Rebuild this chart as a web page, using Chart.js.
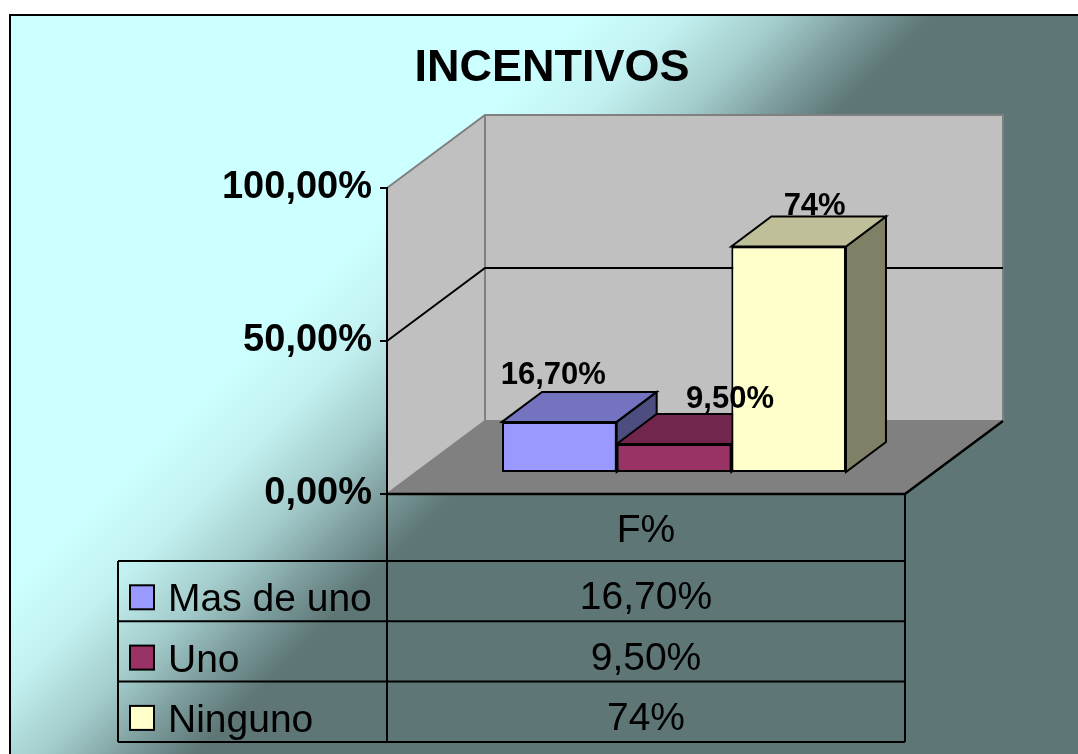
<!DOCTYPE html>
<html><head><meta charset="utf-8">
<script src="https://cdn.jsdelivr.net/npm/chart.js@4.4.1/dist/chart.umd.min.js"></script>
<style>html,body{margin:0;padding:0;background:#fff;overflow:hidden}
#wrap{position:absolute;left:0;top:0;width:1078px;height:754px}</style>
</head><body><div id="wrap"><canvas id="c" width="1078" height="754"></canvas></div>
<script>
// ---- data ----
const categories = ['F%'];
const seriesNames = ['Mas de uno', 'Uno', 'Ninguno'];
const masDeUno = [0.167];
const uno = [0.095];
const ninguno = [0.74];
const valueLabels = ['16,70%', '9,50%', '74%'];
const tickValues = [0, 0.5, 1];
const tickLabels = ['0,00%', '50,00%', '100,00%'];

// ---- styles ----
const FONT = '"Liberation Sans", Arial, Helvetica, sans-serif';
const frontColors = ['#9999FF', '#993366', '#FFFFCC'];
const topColors = ['#7373BF', '#73264D', '#BFBF99'];
const sideColors = ['#4D4D80', '#4D1A33', '#808066'];
const labelNudge = [-6, 56, 26];
const labelLift = [8, 6, 2];
const DEPTH = {dx: 98, dy: -73};
const BAR_SHIFT = {dx: 28, dy: -21};
const BAR_DEPTH = {dx: 40, dy: -30};

function poly(ctx, pts, fill, stroke, lw) {
  ctx.beginPath();
  ctx.moveTo(pts[0][0], pts[0][1]);
  for (let i = 1; i < pts.length; i++) ctx.lineTo(pts[i][0], pts[i][1]);
  ctx.closePath();
  if (fill) { ctx.fillStyle = fill; ctx.fill(); }
  if (stroke) { ctx.strokeStyle = stroke; ctx.lineWidth = lw || 2; ctx.lineJoin = 'miter'; ctx.stroke(); }
}
function line(ctx, pts, color, lw) {
  ctx.beginPath();
  ctx.moveTo(pts[0][0], pts[0][1]);
  for (let i = 1; i < pts.length; i++) ctx.lineTo(pts[i][0], pts[i][1]);
  ctx.strokeStyle = color; ctx.lineWidth = lw || 2; ctx.stroke();
}

const scenePlugin = {
  id: 'scene',
  beforeDraw(chart) {
    const ctx = chart.ctx, a = chart.chartArea, W = chart.width, H = chart.height;
    const ys = chart.scales.y;
    ctx.save();
    ctx.fillStyle = '#fff'; ctx.fillRect(0, 0, W, H);
    const g = ctx.createLinearGradient(0, 0, 1000, 1000);
    g.addColorStop(0.30, '#CCFFFF');
    g.addColorStop(0.35, '#C2F0F0');
    g.addColorStop(0.40, '#A3CBCB');
    g.addColorStop(0.44, '#7C9C9C');
    g.addColorStop(0.475, '#5E7676');
    ctx.fillStyle = g; ctx.fillRect(10, 15, W - 10, H - 15);
    line(ctx, [[10, H], [10, 15], [W, 15]], '#000', 2);

    const L = a.left, R = a.right, T = ys.getPixelForValue(1), B = ys.getPixelForValue(0);
    const dx = DEPTH.dx, dy = DEPTH.dy;
    poly(ctx, [[L + dx, T + dy], [R + dx, T + dy], [R + dx, B + dy], [L + dx, B + dy]], '#C0C0C0');
    poly(ctx, [[L, T], [L + dx, T + dy], [L + dx, B + dy], [L, B]], '#C0C0C0');
    poly(ctx, [[L, B], [R, B], [R + dx, B + dy], [L + dx, B + dy]], '#808080');
    line(ctx, [[L, T], [L + dx, T + dy], [R + dx, T + dy], [R + dx, B + dy], [L + dx, B + dy], [L + dx, T + dy]], '#808080', 2);
    line(ctx, [[L, B], [L + dx, B + dy]], '#808080', 2);
    tickValues.forEach(v => {
      if (v <= ys.min || v >= ys.max) return;
      const y = ys.getPixelForValue(v);
      line(ctx, [[L, y], [L + dx, y + dy], [R + dx, y + dy]], '#000', 2);
    });
    line(ctx, [[L, B], [R, B], [R + dx, B + dy]], '#000', 2.5);
    ctx.restore();
  },
  beforeDatasetsDraw(chart) {
    const ctx = chart.ctx;
    ctx.save();
    ctx.translate(BAR_SHIFT.dx, BAR_SHIFT.dy);
    chart.data.datasets.forEach((ds, i) => {
      const meta = chart.getDatasetMeta(i);
      meta.data.forEach(bar => {
        const p = bar.getProps(['x', 'y', 'base', 'width'], true);
        const l = p.x - p.width / 2, r = p.x + p.width / 2, t = p.y, b = p.base;
        const ddx = BAR_DEPTH.dx, ddy = BAR_DEPTH.dy;
        poly(ctx, [[r, t], [r + ddx, t + ddy], [r + ddx, b + ddy], [r, b]], sideColors[i], '#000', 2);
        poly(ctx, [[l, t], [l + ddx, t + ddy], [r + ddx, t + ddy], [r, t]], topColors[i], '#000', 2);
      });
    });
  },
  afterDatasetsDraw(chart) {
    chart.ctx.restore();
  },
  afterDraw(chart) {
    const ctx = chart.ctx, a = chart.chartArea;
    const ys = chart.scales.y;
    const L = a.left, R = a.right, B = ys.getPixelForValue(0);
    ctx.save();
    ctx.fillStyle = '#000';
    ctx.font = 'bold 31px ' + FONT;
    ctx.textAlign = 'center';
    ctx.textBaseline = 'alphabetic';
    chart.data.datasets.forEach((ds, i) => {
      const bar = chart.getDatasetMeta(i).data[0];
      const cx = bar.x + BAR_SHIFT.dx + labelNudge[i];
      const yb = bar.y + BAR_SHIFT.dy + BAR_DEPTH.dy - labelLift[i];
      ctx.fillText(valueLabels[i], cx, yb);
    });
    const tl = L - 269;
    const hb = B + 67;
    const rowH = 60.3;
    const bottom = hb + rowH * seriesNames.length;
    line(ctx, [[L, B], [L, bottom]], '#000', 2);
    line(ctx, [[R, B], [R, bottom]], '#000', 2);
    line(ctx, [[tl, hb], [tl, bottom]], '#000', 2);
    for (let r = 0; r <= seriesNames.length; r++) {
      const y = hb + r * rowH;
      line(ctx, [[tl, y], [R, y]], '#000', 2);
    }
    ctx.font = '39px ' + FONT;
    ctx.textAlign = 'center';
    ctx.fillText(categories[0], (L + R) / 2, hb - 19);
    seriesNames.forEach((name, r) => {
      const y0 = hb + r * rowH;
      const bl = y0 + rowH - 12;
      ctx.fillStyle = frontColors[r];
      ctx.fillRect(tl + 12, bl - 24, 24, 24);
      ctx.strokeStyle = '#000'; ctx.lineWidth = 2;
      ctx.strokeRect(tl + 12, bl - 24, 24, 24);
      ctx.fillStyle = '#000';
      ctx.textAlign = 'left';
      ctx.fillText(name, tl + 50, bl + 2);
      ctx.textAlign = 'center';
      ctx.fillText(valueLabels[r], (L + R) / 2, bl);
    });
    ctx.restore();
  }
};

const seriesData = [masDeUno, uno, ninguno];
const datasets = seriesNames.map((name, i) => ({
  label: name,
  data: seriesData[i],
  backgroundColor: frontColors[i],
  borderColor: '#000',
  borderWidth: 2,
  borderSkipped: false,
  categoryPercentage: 0.664,
  barPercentage: 1,
  clip: false
}));

new Chart(document.getElementById('c'), {
  type: 'bar',
  data: { labels: categories, datasets },
  options: {
    responsive: false,
    maintainAspectRatio: false,
    animation: false,
    devicePixelRatio: 1,
    events: [],
    layout: { padding: { left: 199, right: 173, top: 0, bottom: 260 } },
    plugins: {
      legend: { display: false },
      tooltip: { enabled: false },
      title: {
        display: true,
        text: 'INCENTIVOS',
        color: '#000',
        font: { family: FONT, size: 45, weight: 'bold', lineHeight: 1.2 },
        padding: { top: 42, bottom: 92 }
      }
    },
    scales: {
      x: { display: false },
      y: {
        min: 0, max: 1,
        afterFit(scale) { scale.width = 188; },
        afterBuildTicks(scale) { scale.ticks = tickValues.map(v => ({ value: v })); },
        ticks: {
          color: '#000',
          padding: 8,
          font: { family: FONT, size: 38, weight: 'bold' },
          callback: (v) => tickLabels[tickValues.indexOf(v)]
        },
        grid: { drawOnChartArea: false, drawTicks: true, tickLength: 7, color: '#000', lineWidth: 2 },
        border: { display: true, color: '#000', width: 2 }
      }
    }
  },
  plugins: [scenePlugin]
});
</script>
</body></html>
